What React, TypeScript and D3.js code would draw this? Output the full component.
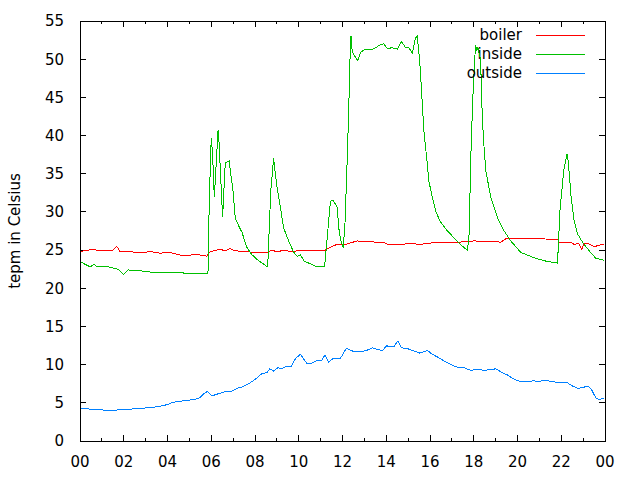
import React from "react";
import * as d3 from "d3";

// [hour, temperature]
const boiler: [number, number][] = [
  [0.0, 24.8], [0.38, 25.0], [0.61, 25.1], [0.84, 24.9], [1.1, 24.9], [1.3, 25.0], [1.47, 24.9],
  [1.68, 25.5], [1.83, 24.8], [2.29, 24.8], [2.52, 24.7], [2.9, 24.7], [3.21, 24.8], [3.66, 24.6],
  [4.12, 24.7], [4.35, 24.5], [4.66, 24.3], [5.42, 24.4], [5.8, 24.2], [5.95, 24.8], [6.26, 25.0],
  [6.41, 25.1], [6.64, 24.9], [6.87, 25.2], [7.02, 25.0], [7.33, 24.8], [7.79, 24.75], [8.17, 24.7],
  [8.61, 24.75], [8.78, 25.0], [9.01, 24.75], [9.31, 25.0], [9.62, 24.8], [9.93, 24.9], [10.38, 24.9],
  [10.99, 24.9], [11.22, 25.0], [11.53, 25.5], [11.76, 25.75], [12.14, 25.75], [12.67, 26.2],
  [13.13, 26.1], [13.89, 26.0], [14.05, 25.75], [14.66, 25.75], [15.11, 25.85], [15.57, 25.75],
  [16.34, 26.05], [17.4, 26.05], [18.01, 26.2], [19.24, 26.05], [19.47, 26.5], [20.15, 26.5],
  [20.76, 26.5], [21.83, 26.4], [21.91, 26.05], [22.44, 26.05], [22.59, 25.75], [22.81, 25.85],
  [22.93, 25.1], [23.05, 25.85], [23.28, 25.8], [23.51, 25.45], [23.82, 25.7], [23.97, 25.7],
];

const inside: [number, number][] = [
  [0.0, 23.5], [0.46, 22.8], [0.64, 23.1], [0.81, 22.8], [1.22, 22.9], [1.42, 22.7], [1.74, 22.5],
  [1.98, 21.8], [2.21, 22.4], [2.75, 22.3], [3.28, 22.1], [4.66, 22.1], [4.73, 22.0], [5.85, 22.0],
  [5.91, 31.4], [6.0, 39.7], [6.06, 37.6], [6.14, 31.9], [6.31, 40.6], [6.33, 40.6], [6.52, 29.3],
  [6.64, 36.4], [6.82, 36.7], [6.87, 35.4], [6.98, 33.2], [7.1, 29.2], [7.25, 28.2], [7.41, 27.3],
  [7.53, 26.2], [7.64, 25.3], [7.86, 24.4], [8.09, 23.8], [8.32, 23.3], [8.58, 22.8], [8.72, 32.7],
  [8.85, 37.0], [8.91, 35.4], [9.01, 33.2], [9.16, 30.6], [9.31, 27.9], [9.54, 26.2], [9.77, 24.7],
  [9.93, 24.2], [10.08, 24.4], [10.23, 23.6], [10.53, 23.2], [10.84, 22.8], [11.18, 22.8],
  [11.45, 31.4], [11.57, 31.5], [11.76, 30.6], [11.83, 27.9], [11.91, 26.4], [12.03, 25.3],
  [12.11, 28.2], [12.22, 37.3], [12.29, 44.1], [12.37, 53.0], [12.4, 53.0], [12.44, 51.1],
  [12.52, 50.6], [12.7, 49.8], [12.82, 50.9], [12.98, 51.2], [13.36, 51.3], [13.51, 51.5],
  [13.74, 51.9], [13.89, 52.0], [14.05, 51.4], [14.28, 51.5], [14.51, 51.3], [14.69, 52.3],
  [14.89, 51.5], [15.04, 51.5], [15.19, 50.8], [15.34, 52.8], [15.42, 53.0], [15.5, 50.6],
  [15.54, 49.3], [15.65, 44.1], [15.72, 40.6], [15.88, 36.2], [15.95, 34.0], [16.11, 31.9],
  [16.26, 30.1], [16.46, 28.8], [16.8, 27.5], [17.1, 26.6], [17.48, 25.5], [17.71, 25.0],
  [17.79, 27.1], [17.86, 36.7], [17.95, 44.5], [18.08, 51.9], [18.14, 51.1], [18.18, 51.6],
  [18.32, 49.8], [18.35, 45.4], [18.44, 39.7], [18.55, 35.4], [18.78, 31.9], [19.09, 29.2],
  [19.39, 27.5], [19.69, 26.2], [20.15, 24.7], [20.76, 24.0], [21.22, 23.6], [21.83, 23.3],
  [21.94, 30.1], [22.11, 35.4], [22.26, 37.6], [22.32, 36.7], [22.44, 32.3], [22.59, 28.8],
  [22.75, 27.1], [22.98, 26.0], [23.28, 24.9], [23.59, 23.9], [23.82, 23.8], [23.97, 23.6],
];

const outside: [number, number][] = [
  [0.0, 4.3], [0.54, 4.15], [1.37, 4.0], [2.21, 4.15], [2.9, 4.3], [3.44, 4.45], [3.74, 4.6],
  [4.04, 4.8], [4.2, 5.05], [4.58, 5.2], [4.96, 5.35], [5.27, 5.45], [5.5, 5.7], [5.65, 6.2],
  [5.83, 6.5], [6.03, 5.9], [6.33, 6.2], [6.64, 6.45], [6.95, 6.55], [7.18, 6.9], [7.41, 7.05],
  [7.71, 7.5], [8.02, 8.1], [8.32, 8.85], [8.55, 8.95], [8.67, 9.45], [8.85, 9.15], [9.04, 9.6],
  [9.21, 9.45], [9.39, 9.7], [9.66, 9.8], [9.85, 10.8], [10.08, 11.35], [10.38, 10.1], [10.61, 10.2],
  [10.84, 10.55], [11.04, 10.5], [11.19, 11.25], [11.37, 10.35], [11.6, 10.85], [11.91, 10.85],
  [12.18, 12.15], [12.52, 11.7], [13.05, 11.8], [13.36, 12.2], [13.59, 12.0], [13.82, 11.85],
  [14.02, 12.45], [14.35, 12.35], [14.53, 13.1], [14.69, 12.2], [14.96, 12.1], [15.27, 11.8],
  [15.54, 11.5], [15.88, 11.85], [16.11, 11.35], [16.34, 11.0], [16.64, 10.5], [16.95, 10.05],
  [17.18, 9.7], [17.56, 9.6], [17.86, 9.25], [18.17, 9.4], [18.47, 9.25], [19.01, 9.45],
  [19.31, 8.95], [19.54, 8.65], [19.77, 8.2], [20.15, 7.75], [20.61, 7.75], [20.73, 7.95],
  [20.92, 7.75], [21.22, 7.95], [21.68, 7.75], [21.91, 7.6], [22.29, 7.6], [22.52, 7.2],
  [22.75, 6.9], [22.98, 7.0], [23.21, 7.2], [23.36, 6.85], [23.59, 5.6], [23.74, 5.45], [23.94, 5.6],
];

const seriesNames = ["boiler", "inside", "outside"];
const seriesColors = ["#ff0000", "#00c000", "#0080ff"];
const xMajorTicks = [0, 2, 4, 6, 8, 10, 12, 14, 16, 18, 20, 22, 24];
const xTickLabels = ["00", "02", "04", "06", "08", "10", "12", "14", "16", "18", "20", "22", "00"];
const xMinorTicks = [1, 3, 5, 7, 9, 11, 13, 15, 17, 19, 21, 23];
const yTicks = [0, 5, 10, 15, 20, 25, 30, 35, 40, 45, 50, 55];
const yLabel = "tepm in Celsius";

export default function App() {
  const L = 80, R = 605, T = 21, B = 441;
  const x = d3.scaleLinear().domain([0, 24]).range([L, R]);
  const y = d3.scaleLinear().domain([0, 55]).range([B, T]);
  const line = d3.line<[number, number]>().x((d) => x(d[0])).y((d) => y(d[1]));
  const data = [boiler, inside, outside];
  const font = "'DejaVu Sans', sans-serif";
  const fs = 15;
  const major = 6, minor = 3;

  return (
    <svg width={640} height={480} style={{ position: "absolute", left: 0, top: 0, background: "#fff" }}
      fontFamily={font} fontSize={fs}>
      <rect x={0} y={0} width={640} height={480} fill="#fff" />
      {/* ticks */}
      <g stroke="#000" strokeWidth={1} shapeRendering="crispEdges">
        {yTicks.map((t) => (
          <g key={"y" + t}>
            <line x1={L} x2={L + major} y1={y(t)} y2={y(t)} />
            <line x1={R} x2={R - major} y1={y(t)} y2={y(t)} />
          </g>
        ))}
        {xMajorTicks.map((t) => (
          <g key={"x" + t}>
            <line x1={x(t)} x2={x(t)} y1={B} y2={B - major} />
            <line x1={x(t)} x2={x(t)} y1={T} y2={T + major} />
          </g>
        ))}
        {xMinorTicks.map((t) => (
          <g key={"m" + t}>
            <line x1={x(t)} x2={x(t)} y1={B} y2={B - minor} />
            <line x1={x(t)} x2={x(t)} y1={T} y2={T + minor} />
          </g>
        ))}
      </g>
      {/* tick labels */}
      <g fill="#000">
        {yTicks.map((t) => (
          <text key={"yl" + t} x={L - 16} y={y(t)} dy="0.36em" textAnchor="end">{t}</text>
        ))}
        {xMajorTicks.map((t, i) => (
          <text key={"xl" + t} x={x(t)} y={B + 26} textAnchor="middle">{xTickLabels[i]}</text>
        ))}
        <text transform={`translate(20,${(T + B) / 2}) rotate(-90)`} textAnchor="middle">{yLabel}</text>
      </g>
      {/* legend + lines */}
      {data.map((d, i) => (
        <g key={seriesNames[i]}>
          <text x={522} y={35 + i * 19} dy="0.36em" textAnchor="end" fill="#000">{seriesNames[i]}</text>
          <line x1={536} x2={585} y1={35 + i * 19} y2={35 + i * 19} stroke={seriesColors[i]} strokeWidth={1} shapeRendering="crispEdges" />
          <path d={line(d) || ""} fill="none" stroke={seriesColors[i]} strokeWidth={1} shapeRendering="crispEdges" />
        </g>
      ))}
      <rect x={L} y={T} width={R - L} height={B - T} fill="none" stroke="#000" strokeWidth={1} shapeRendering="crispEdges" />
    </svg>
  );
}
